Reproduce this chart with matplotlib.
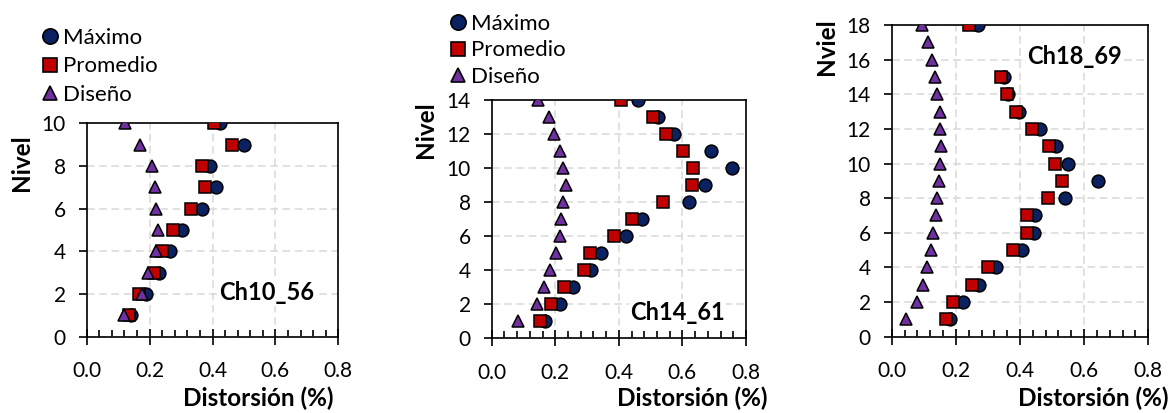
import numpy as np
import matplotlib
matplotlib.use("Agg")
import matplotlib.pyplot as plt
from matplotlib.ticker import MultipleLocator
from matplotlib.lines import Line2D

plt.rcParams['font.family'] = ['Lato', 'DejaVu Sans']

# ---------------- data ----------------
levels_10 = list(range(1, 11))
max_10 = [0.141, 0.188, 0.230, 0.265, 0.302, 0.368, 0.410, 0.392, 0.501, 0.424]
avg_10 = [0.135, 0.167, 0.214, 0.240, 0.273, 0.331, 0.376, 0.366, 0.463, 0.406]
dis_10 = [0.120, 0.177, 0.196, 0.219, 0.227, 0.220, 0.217, 0.209, 0.170, 0.123]

levels_14 = list(range(1, 15))
max_14 = [0.168, 0.215, 0.257, 0.312, 0.344, 0.421, 0.474, 0.622, 0.671, 0.755, 0.690, 0.575, 0.524, 0.461]
avg_14 = [0.152, 0.186, 0.228, 0.291, 0.309, 0.385, 0.440, 0.538, 0.629, 0.632, 0.603, 0.548, 0.508, 0.407]
dis_14 = [0.084, 0.142, 0.165, 0.183, 0.202, 0.215, 0.218, 0.223, 0.234, 0.223, 0.215, 0.197, 0.181, 0.147]

levels_18 = list(range(1, 19))
max_18 = [0.182, 0.223, 0.273, 0.325, 0.405, 0.445, 0.447, 0.540, 0.644, 0.551, 0.512, 0.462, 0.398, 0.362, 0.351,
          np.nan, np.nan, 0.268]
avg_18 = [0.168, 0.190, 0.249, 0.301, 0.379, 0.423, 0.423, 0.488, 0.530, 0.509, 0.491, 0.436, 0.388, 0.358, 0.341,
          np.nan, np.nan, 0.242]
dis_18 = [0.044, 0.080, 0.097, 0.110, 0.121, 0.130, 0.137, 0.142, 0.147, 0.151, 0.154, 0.151, 0.151, 0.142, 0.136,
          0.127, 0.112, 0.094]

series_names = ["Máximo", "Promedio", "Diseño"]
panel_titles = ["Ch10_56", "Ch14_61", "Ch18_69"]
ylabels = ["Nivel", "Nivel", "Nviel"]
xlabel = "Distorsión (%)"
xticks = [0.0, 0.2, 0.4, 0.6, 0.8]

# ---------------- style ----------------
C_MAX = "#0B2160"
C_AVG = "#C00000"
C_DIS = "#7030A0"
W, H = 1171, 413

fig = plt.figure(figsize=(W / 100, H / 100), dpi=100)

def fx(px):
    return px / W

def fy(py):
    return 1 - py / H

panels = [
    dict(box=(86.7, 123.3, 338.3, 336.7), lev=levels_10, mx=max_10, av=avg_10, ds=dis_10, ymax=10,
         title_xy=(266.7, 293), ylab_xy=(22, 163), xlab_xy=(258, 398), legend_xy=(42, 28), lspace=0.38),
    dict(box=(491.7, 100.0, 746.0, 338.3), lev=levels_14, mx=max_14, av=avg_14, ds=dis_14, ymax=14,
         title_xy=(677.5, 312), ylab_xy=(426, 130), xlab_xy=(692, 398), legend_xy=(450, 14), lspace=0.29),
    dict(box=(891.7, 25.0, 1148.3, 336.7), lev=levels_18, mx=max_18, av=avg_18, ds=dis_18, ymax=18,
         title_xy=(1074.7, 56.7), ylab_xy=(827, 47), xlab_xy=(1093, 398), legend_xy=None, lspace=None),
]

for i, p in enumerate(panels):
    l, t, r, b = p['box']
    ax = fig.add_axes([fx(l), fy(b), fx(r - l), (b - t) / H])
    ax.set_xlim(0, 0.8)
    ax.set_ylim(0, p['ymax'])
    ax.plot(p['mx'], p['lev'], 'o', ms=9.2, mfc=C_MAX, mec='black', mew=1.1, zorder=3, label=series_names[0])
    ax.plot(p['av'], p['lev'], 's', ms=8.6, mfc=C_AVG, mec='black', mew=1.1, zorder=4, label=series_names[1])
    ax.plot(p['ds'], p['lev'], '^', ms=9.2, mfc=C_DIS, mec='black', mew=1.1, zorder=5, label=series_names[2])

    ax.set_xticks(xticks)
    ax.set_xticklabels([f"{v:.1f}" for v in xticks])
    ax.xaxis.set_minor_locator(MultipleLocator(0.04))
    ax.yaxis.set_major_locator(MultipleLocator(2))
    ax.grid(True, which='major', color='#D9D9D9', linestyle=(0, (5, 3)), linewidth=1.1, zorder=0)
    ax.set_axisbelow(True)
    ax.tick_params(axis='x', which='major', direction='inout', length=11, width=1.2, labelsize=15, pad=12)
    ax.tick_params(axis='x', which='minor', direction='in', length=5, width=1.2)
    ax.tick_params(axis='y', which='major', direction='out', length=6, width=1.2, labelsize=15, pad=9)
    for s in ax.spines.values():
        s.set_linewidth(1.2)
        s.set_color('black')

    tx, ty = p['title_xy']
    fig.text(fx(tx), fy(ty), panel_titles[i], fontsize=17, fontweight='bold', ha='center', va='center',
             bbox=dict(facecolor='white', edgecolor='none', pad=1), zorder=10)
    lx, ly = p['ylab_xy']
    fig.text(fx(lx), fy(ly), ylabels[i], fontsize=17.5, fontweight='bold', rotation=90, ha='center', va='center')
    xx, xy = p['xlab_xy']
    fig.text(fx(xx), fy(xy), xlabel, fontsize=17.5, fontweight='bold', ha='center', va='center')

    if p['legend_xy'] is not None:
        handles = [
            Line2D([], [], marker='o', ls='none', ms=11, mfc=C_MAX, mec='black', mew=1.2),
            Line2D([], [], marker='s', ls='none', ms=10.5, mfc=C_AVG, mec='black', mew=1.2),
            Line2D([], [], marker='^', ls='none', ms=10, mfc=C_DIS, mec='black', mew=1.2),
        ]
        lgx, lgy = p['legend_xy']
        fig.legend(handles, series_names, loc='upper left', bbox_to_anchor=(fx(lgx), fy(lgy)),
                   frameon=False, fontsize=16, handlelength=0.75, handletextpad=0.2,
                   labelspacing=p['lspace'], borderpad=0, borderaxespad=0)

fig.savefig("out.png", dpi=100)
